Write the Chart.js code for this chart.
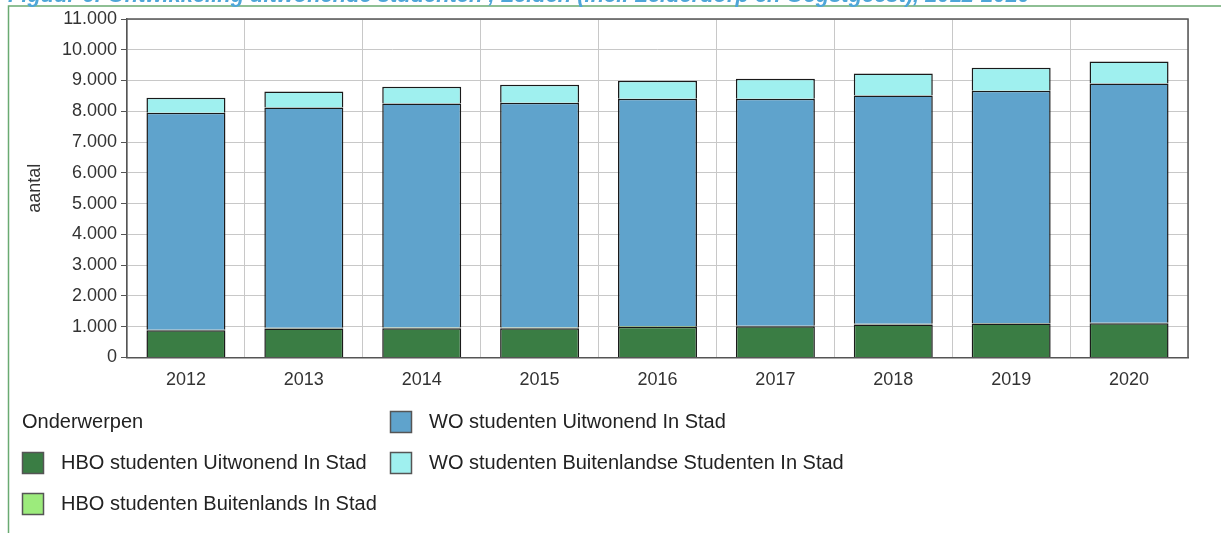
<!DOCTYPE html>
<html>
<head>
<meta charset="utf-8">
<script src="https://cdn.jsdelivr.net/npm/chart.js@4"></script>
<style>
  html, body { margin: 0; padding: 0; background: #fff; }
  #wrap { width: 1221px; height: 533px; }
</style>
</head>
<body>
<div id="wrap"><canvas id="grafiek" width="1221" height="533"></canvas></div>
<script>
const jaren = ['2012', '2013', '2014', '2015', '2016', '2017', '2018', '2019', '2020']
const hboUitwonend = [880, 940, 950, 950, 1000, 1010, 1070, 1100, 1110]
const hboBuitenlands = [20, 20, 20, 20, 20, 20, 20, 20, 20]
const woUitwonend = [7050, 7160, 7280, 7310, 7390, 7380, 7420, 7550, 7770]
const woBuitenlands = [490, 520, 550, 585, 585, 650, 715, 745, 715]
const titel = 'Figuur 6: Ontwikkeling uitwonende studenten , Leiden (incl. Leiderdorp en Oegstgeest), 2012-2020'

const lettertype = "'Liberation Sans', Arial, sans-serif"

// kader, titel bovenaan, rand om plotgebied en legenda
const extra = {
  id: 'extra',
  beforeDraw(chart) {
    const c = chart.ctx
    c.save()
    c.fillStyle = '#fff'
    c.fillRect(0, 0, chart.width, chart.height)
    c.strokeStyle = '#6aaa72'
    c.lineWidth = 1.5
    c.beginPath()
    c.moveTo(8.5, chart.height)
    c.lineTo(8.5, 6)
    c.lineTo(chart.width, 6)
    c.stroke()
    c.font = "bold italic 22px " + lettertype
    c.fillStyle = '#4ea6d8'
    c.textBaseline = 'alphabetic'
    c.fillText(titel, 8, 2, 1022)
    c.restore()
  },
  afterDraw(chart) {
    const c = chart.ctx
    const a = chart.chartArea
    c.save()
    c.strokeStyle = '#555'
    c.lineWidth = 1.5
    c.beginPath()
    c.moveTo(a.left, a.top)
    c.lineTo(a.right, a.top)
    c.lineTo(a.right, a.bottom)
    c.stroke()

    // legenda
    c.font = '20px ' + lettertype
    c.fillStyle = '#222'
    c.textBaseline = 'middle'
    c.fillText('Onderwerpen', 22, 422)
    const plekken = [[22, 463], [22, 504], [390, 422], [390, 463]]
    chart.data.datasets.forEach((ds, i) => {
      const [x, y] = plekken[i]
      c.fillStyle = ds.backgroundColor
      c.fillRect(x, y - 11, 22, 22)
      c.strokeStyle = '#555'
      c.lineWidth = 1.5
      c.strokeRect(x + 0.5, y - 10.5, 21, 21)
      c.fillStyle = '#222'
      c.fillText(ds.label, x + 39, y)
    })
    c.restore()
  }
}

new Chart(document.getElementById('grafiek'), {
  type: 'bar',
  data: {
    labels: jaren,
    datasets: [
      { label: 'HBO studenten Uitwonend In Stad', data: hboUitwonend, backgroundColor: '#3a7d44' },
      { label: 'HBO studenten Buitenlands In Stad', data: hboBuitenlands, backgroundColor: '#9ceb7c' },
      { label: 'WO studenten Uitwonend In Stad', data: woUitwonend, backgroundColor: '#5fa3cc' },
      { label: 'WO studenten Buitenlandse Studenten In Stad', data: woBuitenlands, backgroundColor: '#9ff0ef' }
    ].map(d => Object.assign(d, { borderColor: '#1a1a1a', borderWidth: 1.5, barPercentage: 0.67, categoryPercentage: 1 }))
  },
  options: {
    responsive: false,
    animation: false,
    layout: { padding: { top: 19, right: 33, bottom: 130, left: 0 } },
    plugins: { legend: { display: false }, tooltip: { enabled: false } },
    scales: {
      x: {
        stacked: true,
        grid: { color: '#c8c8c8', offset: true, drawTicks: false },
        border: { color: '#555', width: 1.5 },
        ticks: { color: '#333', padding: 12, font: { family: lettertype, size: 18 } }
      },
      y: {
        stacked: true,
        min: 0,
        max: 11000,
        afterFit(s) { s.width = 127 },
        grid: { color: '#c8c8c8', tickColor: '#555', tickLength: 6 },
        border: { color: '#555', width: 1.5 },
        title: { display: true, text: 'aantal', color: '#333', padding: { top: 24, bottom: 0 }, font: { family: lettertype, size: 18 } },
        ticks: {
          stepSize: 1000,
          color: '#333',
          padding: 4,
          font: { family: lettertype, size: 18 },
          callback: v => v.toLocaleString('nl-NL')
        }
      }
    }
  },
  plugins: [extra]
})
</script>
</body>
</html>
